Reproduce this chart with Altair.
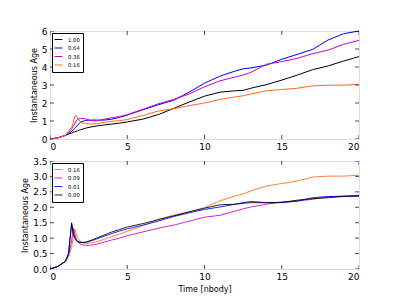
import altair as alt
import pandas as pd

# ---- data ----
TIME = [0, 0.5, 1.0, 1.2, 1.4, 1.5, 1.6, 1.7, 1.8, 2.0, 2.3, 2.6, 3.0, 3.5, 4.0, 4.5,
        5, 6, 7, 8, 9, 10, 11, 12, 12.5, 13, 14, 15, 16, 17, 18, 19, 20]

TOP_LABELS = ["1.00", "0.64", "0.36", "0.16"]
TOP_100 = [0, 0.07, 0.2, 0.27, 0.33, 0.37, 0.4, 0.43, 0.46, 0.52, 0.6, 0.66, 0.72, 0.78, 0.83, 0.88,
           0.95, 1.1, 1.35, 1.7, 2.05, 2.38, 2.6, 2.68, 2.7, 2.82, 3.02, 3.27, 3.55, 3.85, 4.06, 4.33, 4.58]
TOP_064 = [0, 0.06, 0.2, 0.3, 0.42, 0.5, 0.58, 0.68, 0.78, 0.95, 1.03, 1.05, 1.05, 1.05, 1.1, 1.2,
           1.33, 1.62, 1.9, 2.15, 2.6, 3.1, 3.49, 3.78, 3.9, 3.95, 4.1, 4.43, 4.7, 4.98, 5.5, 5.85, 6.0]
TOP_036 = [0, 0.06, 0.2, 0.35, 0.55, 0.7, 0.85, 1.0, 1.1, 1.15, 1.12, 1.03, 1.0, 1.1, 1.18, 1.25,
           1.35, 1.65, 1.95, 2.2, 2.5, 2.9, 3.23, 3.45, 3.55, 3.7, 4.15, 4.3, 4.48, 4.74, 4.94, 5.26, 5.48]
TOP_016 = [0, 0.06, 0.2, 0.45, 0.65, 0.9, 1.25, 1.3, 1.15, 0.92, 0.85, 0.84, 0.85, 0.92, 0.98, 1.02,
           1.08, 1.3, 1.55, 1.68, 1.85, 2.0, 2.2, 2.34, 2.4, 2.5, 2.68, 2.75, 2.82, 2.95, 2.99, 2.99, 3.04]

BOT_LABELS = ["0.16", "0.09", "0.01", "0.00"]
BOT_016 = [0, 0.08, 0.25, 0.4, 0.7, 1.0, 1.3, 1.15, 1.0, 0.88, 0.82, 0.84, 0.88, 0.96, 1.05, 1.13,
           1.22, 1.4, 1.6, 1.75, 1.85, 1.99, 2.21, 2.37, 2.43, 2.53, 2.69, 2.77, 2.85, 2.98, 3.01, 3.01, 3.04]
BOT_009 = [0, 0.08, 0.25, 0.45, 0.9, 1.32, 1.15, 0.98, 0.88, 0.8, 0.76, 0.77, 0.8, 0.87, 0.94, 1.0,
           1.08, 1.2, 1.32, 1.42, 1.55, 1.68, 1.74, 1.88, 1.95, 2.01, 2.1, 2.17, 2.2, 2.26, 2.34, 2.37, 2.35]
BOT_001 = [0, 0.08, 0.25, 0.5, 1.45, 1.15, 1.0, 0.92, 0.88, 0.86, 0.86, 0.9, 0.97, 1.06, 1.15, 1.23,
           1.3, 1.42, 1.55, 1.7, 1.82, 1.93, 2.01, 2.1, 2.15, 2.19, 2.15, 2.15, 2.2, 2.31, 2.35, 2.35, 2.39]
BOT_000 = [0, 0.08, 0.25, 0.5, 1.5, 1.2, 1.02, 0.93, 0.88, 0.86, 0.87, 0.92, 1.0, 1.1, 1.2, 1.28,
           1.36, 1.47, 1.6, 1.72, 1.85, 1.97, 2.08, 2.1, 2.13, 2.15, 2.15, 2.16, 2.23, 2.28, 2.31, 2.35, 2.37]

X_TICKS = [0, 5, 10, 15, 20]
Y_TICKS_TOP = [0, 1, 2, 3, 4, 5, 6]
Y_TICKS_BOT = [0, 0.5, 1.0, 1.5, 2.0, 2.5, 3.0, 3.5]

TOP_COLORS = ["#000000", "#0000ff", "#cc00cc", "#ff6a1a"]
BOT_COLORS = ["#ff6a1a", "#cc00cc", "#0000ff", "#000000"]

W, H = 309, 108
FONT = "DejaVu Sans"


def frame(labels, series):
    rows = []
    for lab, vals in zip(labels, series):
        for t, v in zip(TIME, vals):
            rows.append({"t": t, "age": v, "series": lab})
    return pd.DataFrame(rows)


def panel(df, labels, colors, ydom, yticks, yfmt, xtitle, opacity):
    xs = alt.Scale(domain=[0, 20], nice=False, zero=False)
    ys = alt.Scale(domain=ydom, nice=False)
    xaxis = alt.Axis(values=X_TICKS, title=xtitle, ticks=False, domain=False, grid=False,
                     labelFontSize=9, labelPadding=3, titleFontSize=8, titlePadding=4,
                     titleFontWeight="normal", labelFont=FONT, titleFont=FONT,
                     labelColor="black", titleColor="black")
    yaxis = alt.Axis(values=yticks, title="Instantaneous Age", format=yfmt, ticks=False,
                     domain=False, grid=False, labelFontSize=9, labelPadding=3,
                     titleFontSize=8, titlePadding=3, titleFontWeight="normal",
                     labelFont=FONT, titleFont=FONT, labelColor="black", titleColor="black")
    lines = alt.Chart(df).mark_line(strokeWidth=1, opacity=opacity).encode(
        x=alt.X("t:Q", scale=xs, axis=xaxis),
        y=alt.Y("age:Q", scale=ys, axis=yaxis),
        color=alt.Color("series:N", scale=alt.Scale(domain=labels, range=colors),
                        sort=labels,
                        legend=alt.Legend(title=None, orient="top-left", offset=2,
                                          strokeColor="black", fillColor="white",
                                          padding=3, labelFontSize=5.3, labelFont=FONT,
                                          symbolType="M-1.3,0H1.3", symbolSize=36,
                                          symbolStrokeWidth=1, rowPadding=1.5,
                                          labelOffset=6, cornerRadius=0,
                                          labelColor="black")),
    )
    xt = pd.DataFrame({"v": X_TICKS})
    yt = pd.DataFrame({"v": yticks})
    tx_b = alt.Chart(xt).mark_tick(size=8, thickness=1, clip=True, color="black").encode(
        x=alt.X("v:Q", scale=xs, axis=xaxis), y=alt.value(H))
    tx_t = alt.Chart(xt).mark_tick(size=8, thickness=1, clip=True, color="black").encode(
        x=alt.X("v:Q", scale=xs, axis=xaxis), y=alt.value(0))
    ty_l = alt.Chart(yt).mark_tick(size=8, thickness=1, clip=True, color="black").encode(
        y=alt.Y("v:Q", scale=ys, axis=yaxis), x=alt.value(0))
    ty_r = alt.Chart(yt).mark_tick(size=8, thickness=1, clip=True, color="black").encode(
        y=alt.Y("v:Q", scale=ys, axis=yaxis), x=alt.value(W))
    return alt.layer(lines, tx_b, tx_t, ty_l, ty_r).properties(width=W, height=H)


top_df = frame(TOP_LABELS, [TOP_100, TOP_064, TOP_036, TOP_016])
bot_df = frame(BOT_LABELS, [BOT_016, BOT_009, BOT_001, BOT_000])

top = panel(top_df, TOP_LABELS, TOP_COLORS, [0, 6], Y_TICKS_TOP, "d", None, 1.0)
bot = panel(bot_df, BOT_LABELS, BOT_COLORS, [0, 3.5], Y_TICKS_BOT, ".1f", "Time [nbody]", 0.85)

chart = alt.vconcat(top, bot, spacing=22, bounds="flush").resolve_scale(
    color="independent").resolve_legend(color="independent").properties(
    padding={"left": 13, "top": 18, "right": 5, "bottom": 5}
).configure_view(stroke="#222222", strokeWidth=1).configure(font=FONT)

chart.save("out.html", embed_options={"renderer": "svg", "actions": False})
